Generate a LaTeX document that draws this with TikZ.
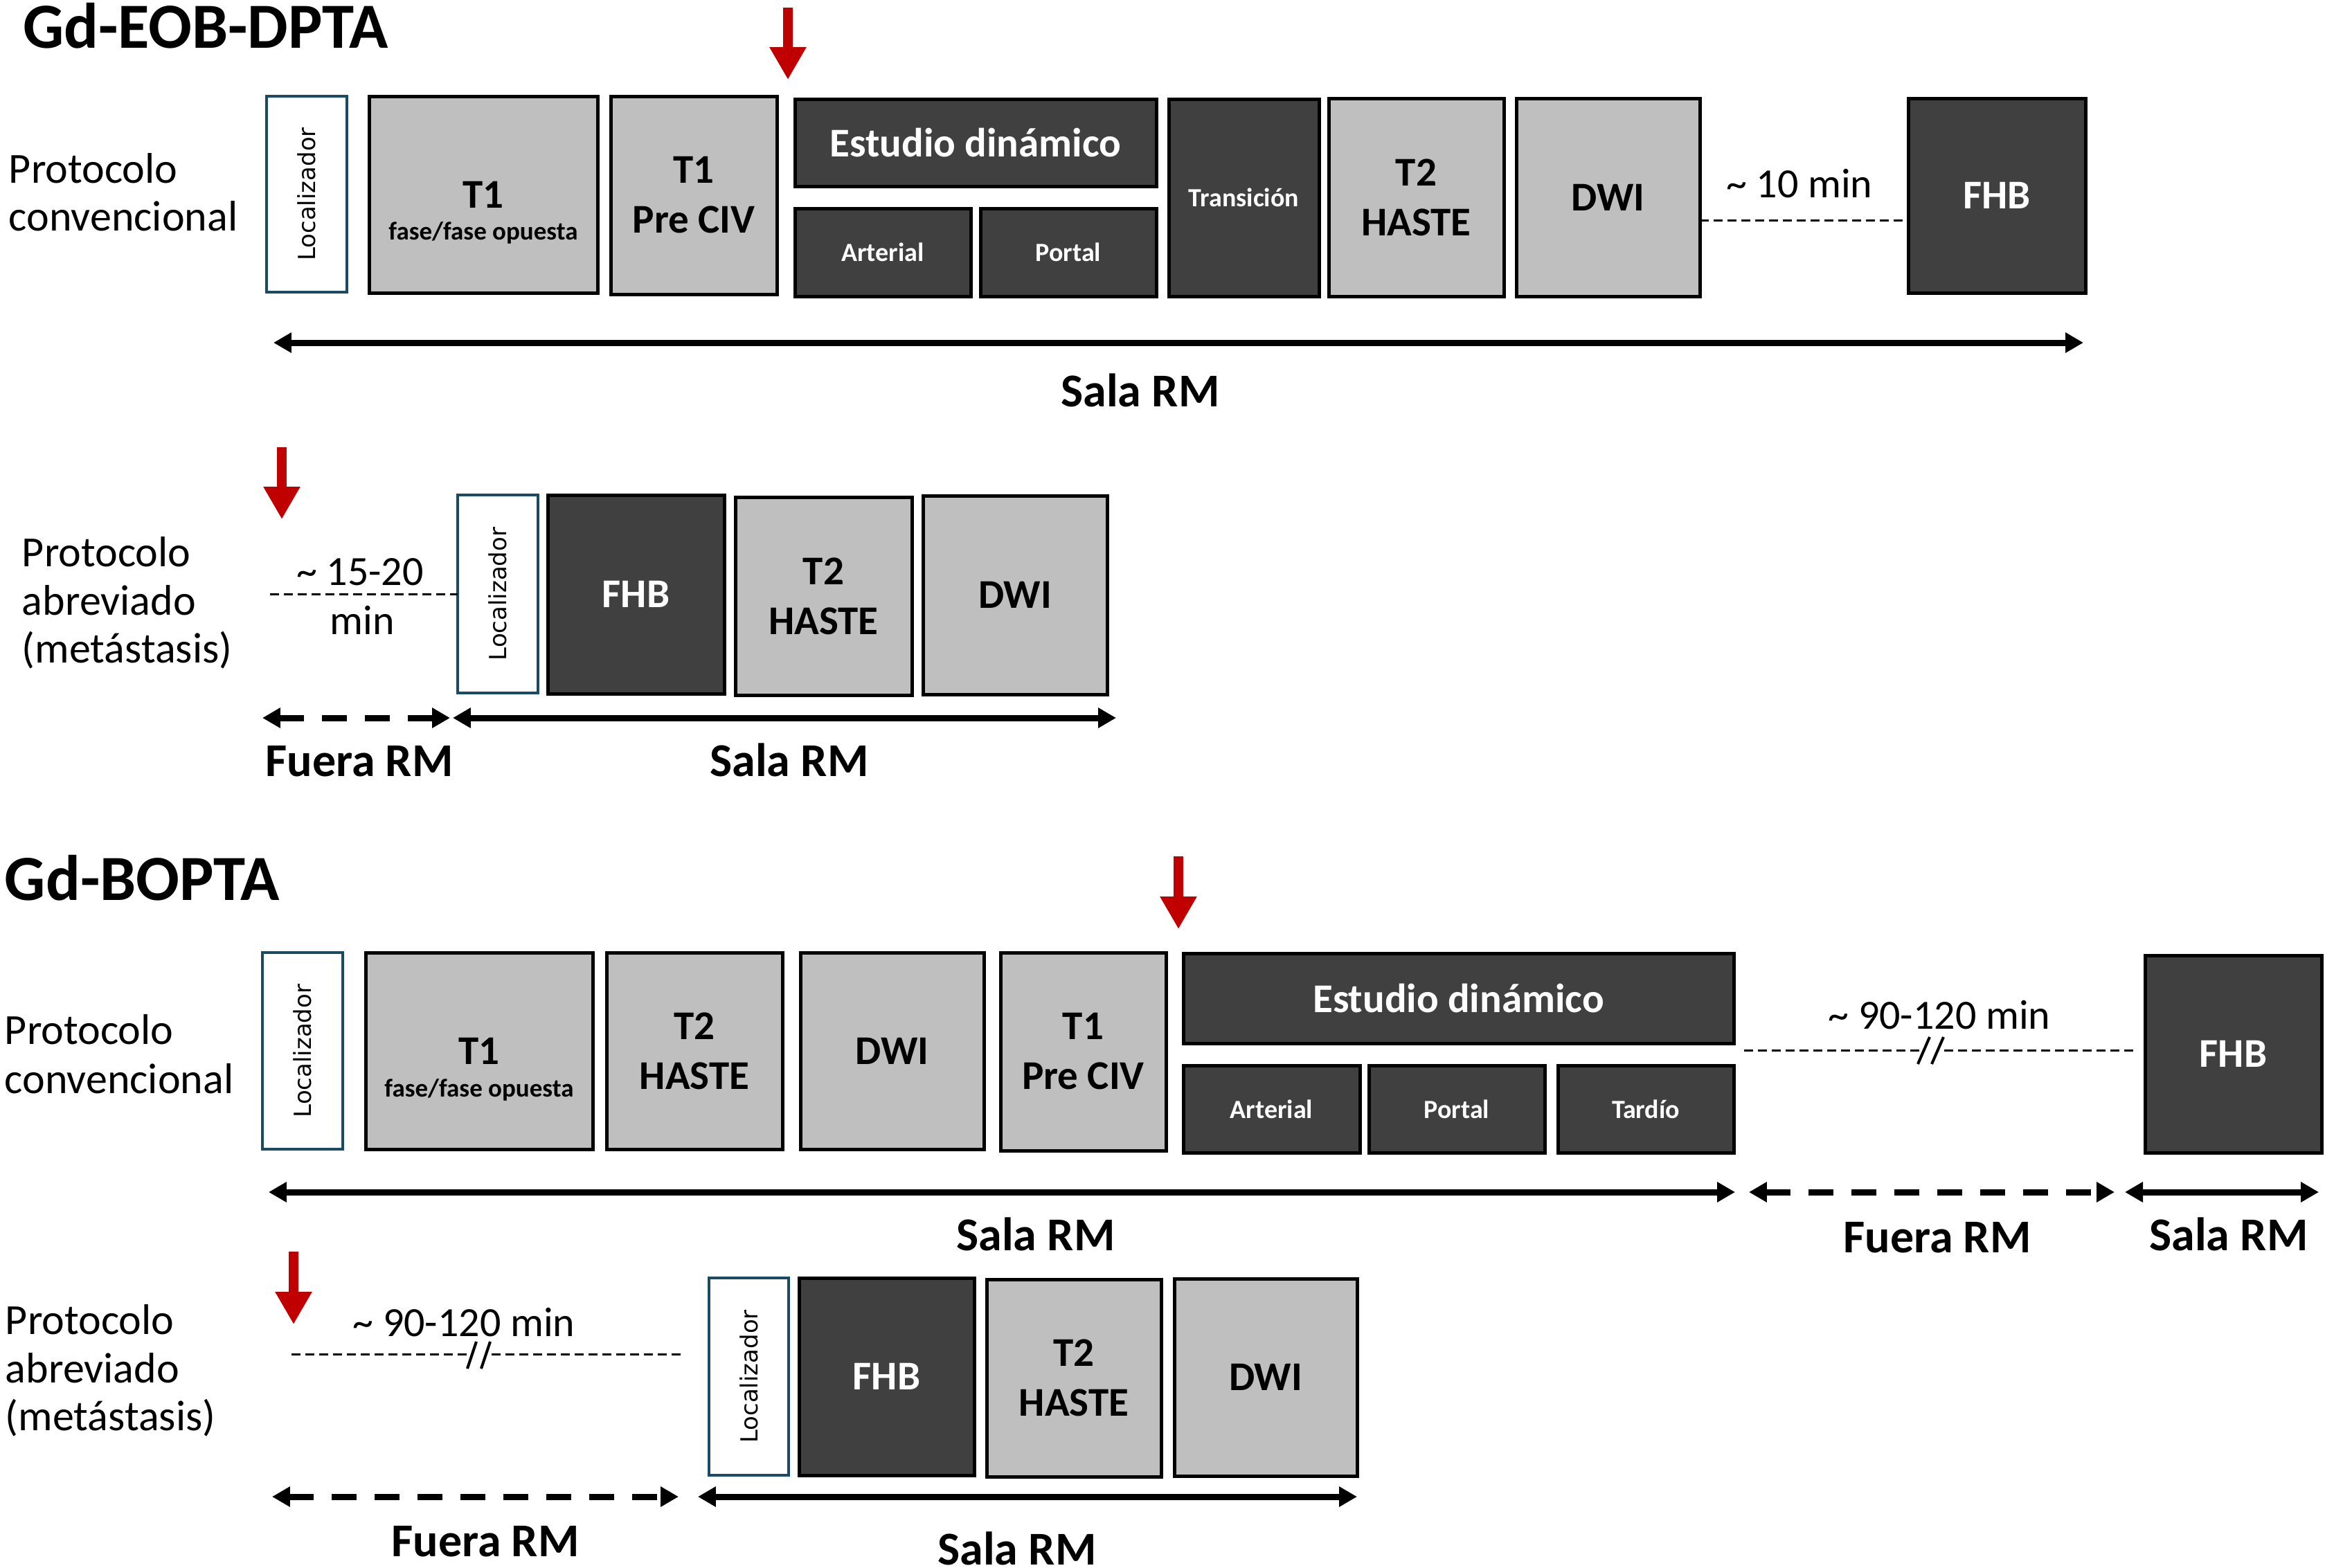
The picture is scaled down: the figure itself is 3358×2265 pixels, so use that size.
\documentclass[tikz,border=0pt]{standalone}
\usepackage{fontspec}
\usepackage{graphicx}
\setmainfont{Carlito}
\newfontfamily\locfont{DejaVu Sans}
\usetikzlibrary{arrows.meta}
\definecolor{lgray}{HTML}{BFBFBF}
\definecolor{dgray}{HTML}{404040}
\definecolor{tealb}{HTML}{1B4B63}
\definecolor{redar}{HTML}{C00000}
\newcommand\mybox[7]{\node[#1, minimum width={(#5-#3)*0.1pt}, minimum height={(#6-#4)*0.1pt}] (#2) at ({(#3+#5)/2},{(#4+#6)/2}) {#7};}
\newcommand\locname{\rotatebox{90}{Localizador}}
\tikzset{
  seqbox/.style={draw=black, line width=0.5pt, inner sep=0pt, outer sep=0pt, align=center,
    font=\bfseries\fontsize{5.9}{7.2}\selectfont},
  lightbox/.style={seqbox, fill=lgray, text=black},
  darkbox/.style={seqbox, fill=dgray, text=white},
  smalldark/.style={darkbox, font=\bfseries\fontsize{3.8}{4.5}\selectfont},
  locbox/.style={seqbox, draw=tealb, line width=0.45pt, fill=white, text=black,
    font=\locfont\fontsize{3.4}{4}\selectfont},
  subtxt/.style={font=\bfseries\fontsize{3.7}{4.4}\selectfont, inner sep=0pt, anchor=base},
  lbl/.style={font=\fontsize{6.2}{7}\selectfont, inner sep=0pt, anchor=base west},
  tlbl/.style={font=\fontsize{6}{7}\selectfont, inner sep=0pt, anchor=base},
  room/.style={font=\bfseries\fontsize{6.8}{8}\selectfont, inner sep=0pt, anchor=base},
  ttl/.style={font=\bfseries\fontsize{9.3}{11}\selectfont, inner sep=0pt, anchor=base west},
  span/.style={line width=0.9pt, {Triangle[length=2.6pt,width=2.8pt]}-{Triangle[length=2.6pt,width=2.8pt]}},
  spandash/.style={span, dash pattern=on 3.6pt off 2.6pt},
  gapline/.style={line width=0.3pt, dash pattern=on 1.3pt off 0.7pt},
  breakmark/.style={line width=0.4pt},
  redarrow/.style={draw=redar, line width=1.4pt, -{Triangle[length=4.7pt,width=5pt]}},
}
\begin{document}
\begin{tikzpicture}[x=0.1pt, y=-0.1pt]
\fill[white] (0,0) rectangle (3358,2265);
\useasboundingbox (0,0) rectangle (3358,2265);

% ===================== Gd-EOB-DPTA =====================
\node[ttl] (title1) at (31,69) {Gd-EOB-DPTA};
\node[lbl] (pc1a) at (11,264) {Protocolo};
\node[lbl] (pc1b) at (11,333) {convencional};

\coordinate (r1a) at (1138,11);
\coordinate (r1b) at (1138,115);
\draw[redarrow] (r1a) -- (r1b);

\mybox{locbox}{loc1}{385}{139}{501}{422}{\locname}
\mybox{lightbox}{t1a}{533}{139}{863}{423}{T1}
\node[subtxt] (t1asub) at ([yshift=-6.5pt]t1a.center) {fase/fase opuesta};
\mybox{lightbox}{t1b}{882}{139}{1122}{425}{T1\\Pre CIV}
\mybox{darkbox}{est1}{1148}{143}{1670}{269}{Estudio dinámico}
\mybox{smalldark}{art1}{1148}{301}{1402}{428}{Arterial}
\mybox{smalldark}{por1}{1416}{301}{1670}{428}{Portal}
\mybox{smalldark}{tra1}{1688}{143}{1905}{428}{Transición}
\mybox{lightbox}{t2a}{1919}{142}{2172}{428}{T2\\HASTE}
\mybox{lightbox}{dwi1}{2190}{142}{2455}{428}{DWI}
\mybox{darkbox}{fhb1}{2756}{142}{3012}{423}{FHB}

\draw[gapline] ([yshift=-3.3pt]dwi1.east) -- ([yshift=-3.3pt]dwi1.east -| fhb1.west);
\node[tlbl] (gap1) at (2599,285) {\textasciitilde\ 10 min};

\coordinate (s1a) at (395,495);
\coordinate (s1b) at (3009,495);
\draw[span] (s1a) -- (s1b);
\node[room] (sala1) at (1647,587) {Sala RM};

% ===================== abbreviated (EOB) =====================
\node[lbl] (pa2a) at (30,818) {Protocolo};
\node[lbl] (pa2b) at (30,888) {abreviado};
\node[lbl] (pa2c) at (30,957) {(metástasis)};

\coordinate (r2a) at (407,646);
\coordinate (r2b) at (407,750);
\draw[redarrow] (r2a) -- (r2b);

\mybox{locbox}{loc2}{661}{715}{777}{1001}{\locname}
\mybox{darkbox}{fhb2}{791}{715}{1046}{1002}{FHB}
\mybox{lightbox}{t2b}{1062}{718}{1317}{1004}{T2\\HASTE}
\mybox{lightbox}{dwi2}{1333}{716}{1599}{1003}{DWI}

\coordinate (g2a) at (390,858);
\draw[gapline] (g2a) -- (loc2.west);
\node[tlbl] (gap2a) at (520,845) {\textasciitilde\ 15-20};
\node[tlbl] (gap2b) at (523,916) {min};

\coordinate (d2a) at (379,1037);
\coordinate (d2b) at (650,1037);
\coordinate (s2a) at (654,1037);
\coordinate (s2b) at (1612,1037);
\draw[spandash] (d2a) -- (d2b);
\draw[span] (s2a) -- (s2b);
\node[room] (fuera2) at (519,1121) {Fuera RM};
\node[room] (sala2) at (1140,1121) {Sala RM};

% ===================== Gd-BOPTA =====================
\node[ttl] (title2) at (5,1300) {Gd-BOPTA};
\node[lbl] (pc3a) at (5,1508) {Protocolo};
\node[lbl] (pc3b) at (5,1579) {convencional};

\coordinate (r3a) at (1702,1237);
\coordinate (r3b) at (1702,1342);
\draw[redarrow] (r3a) -- (r3b);

\mybox{locbox}{loc3}{379}{1376}{495}{1660}{\locname}
\mybox{lightbox}{t1c}{528}{1376}{856}{1660}{T1}
\node[subtxt] (t1csub) at ([yshift=-6.6pt]t1c.center) {fase/fase opuesta};
\mybox{lightbox}{t2c}{876}{1376}{1130}{1660}{T2\\HASTE}
\mybox{lightbox}{dwi3}{1156}{1376}{1421}{1660}{DWI}
\mybox{lightbox}{t1d}{1445}{1376}{1684}{1662}{T1\\Pre CIV}
\mybox{darkbox}{est3}{1709}{1377}{2504}{1507}{Estudio dinámico}
\mybox{smalldark}{art3}{1709}{1539}{1964}{1665}{Arterial}
\mybox{smalldark}{por3}{1977}{1539}{2231}{1665}{Portal}
\mybox{smalldark}{tar3}{2250}{1539}{2504}{1665}{Tardío}
\mybox{darkbox}{fhb3}{3098}{1380}{3353}{1665}{FHB}

\coordinate (g3a) at (2519,1517);
\coordinate (g3m) at (2774,1517);
\coordinate (g3n) at (2808,1517);
\coordinate (g3b) at (3085,1517);
\draw[gapline] (g3a) -- (g3m);
\draw[gapline] (g3n) -- (g3b);
\draw[breakmark] (2770,1537) -- (2787,1498) (2790,1537) -- (2807,1498);
\node[tlbl] (gap3) at (2801,1486) {\textasciitilde\ 90-120 min};

\coordinate (s3a) at (388,1722);
\coordinate (s3b) at (2506,1722);
\coordinate (d3a) at (2526,1722);
\coordinate (d3b) at (3054,1722);
\coordinate (s3c) at (3069,1722);
\coordinate (s3d) at (3349,1722);
\draw[span] (s3a) -- (s3b);
\draw[spandash] (d3a) -- (d3b);
\draw[span] (s3c) -- (s3d);
\node[room] (sala3) at (1496,1806) {Sala RM};
\node[room] (fuera3) at (2798,1809) {Fuera RM};
\node[room] (sala3b) at (3219,1806) {Sala RM};

% ===================== abbreviated (BOPTA) =====================
\node[lbl] (pa4a) at (6,1927) {Protocolo};
\node[lbl] (pa4b) at (6,1997) {abreviado};
\node[lbl] (pa4c) at (6,2066) {(metástasis)};

\coordinate (r4a) at (424,1808);
\coordinate (r4b) at (424,1913);
\draw[redarrow] (r4a) -- (r4b);

\mybox{locbox}{loc4}{1024}{1846}{1139}{2131}{\locname}
\mybox{darkbox}{fhb4}{1154}{1846}{1407}{2131}{FHB}
\mybox{lightbox}{t2d}{1425}{1848}{1677}{2133}{T2\\HASTE}
\mybox{lightbox}{dwi4}{1696}{1847}{1960}{2132}{DWI}

\coordinate (g4a) at (421,1956);
\coordinate (g4m) at (679,1956);
\coordinate (g4n) at (710,1956);
\coordinate (g4b) at (989,1956);
\draw[gapline] (g4a) -- (g4m);
\draw[gapline] (g4n) -- (g4b);
\draw[breakmark] (675,1977) -- (688,1938) (695,1977) -- (708,1938);
\node[tlbl] (gap4) at (670,1930) {\textasciitilde\ 90-120 min};

\coordinate (d4a) at (393,2162);
\coordinate (d4b) at (980,2162);
\coordinate (s4a) at (1008,2162);
\coordinate (s4b) at (1960,2162);
\draw[spandash] (d4a) -- (d4b);
\draw[span] (s4a) -- (s4b);
\node[room] (fuera4) at (701,2248) {Fuera RM};
\node[room] (sala4) at (1469,2260) {Sala RM};
\end{tikzpicture}
\end{document}
